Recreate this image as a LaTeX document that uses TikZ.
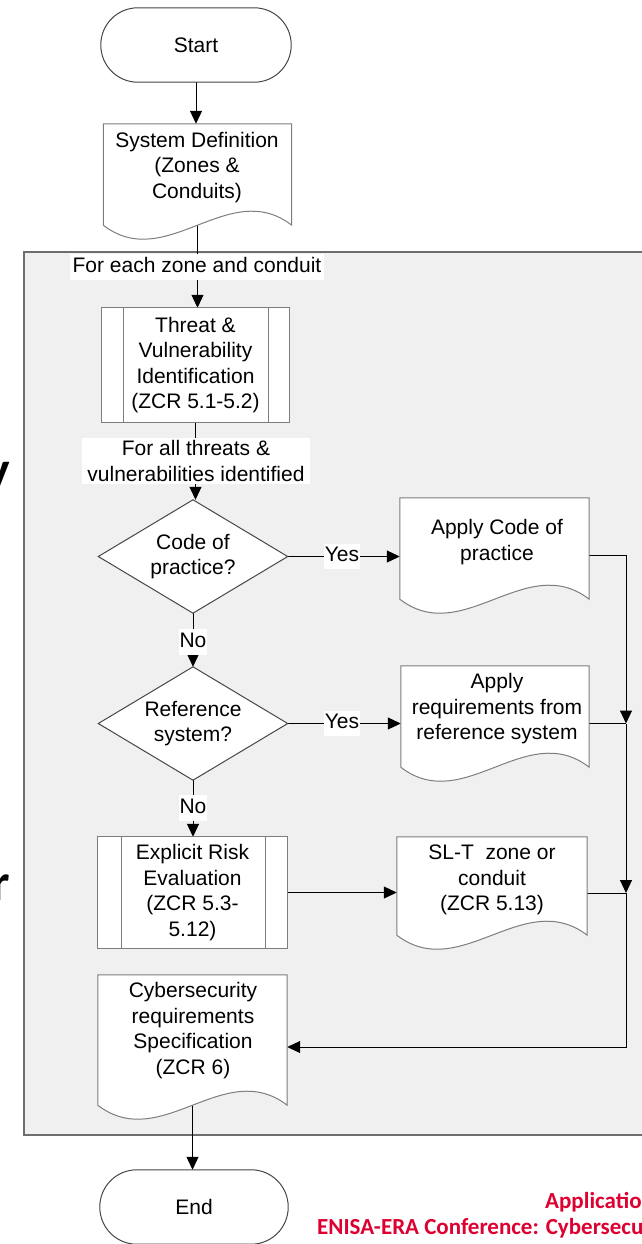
\documentclass[tikz,border=0pt]{standalone}
\usepackage{fontspec}
\setmainfont{Liberation Sans}
\newfontfamily\slidefont{Carlito}
\usetikzlibrary{calc,arrows.meta}

\definecolor{panelfill}{RGB}{240,240,240}
\definecolor{panelline}{RGB}{110,110,110}
\definecolor{shapeline}{RGB}{125,125,125}
\definecolor{diamline}{RGB}{70,70,70}
\definecolor{slidered}{RGB}{221,0,49}

\pgfdeclarelayer{panel}
\pgfdeclarelayer{links}
\pgfdeclarelayer{outlines}
\pgfsetlayers{panel,links,outlines,main}

\tikzset{
  base/.style={inner sep=0pt, align=center, font=\fontsize{21}{25.5}\selectfont},
  shp/.style={draw=shapeline, fill=white, line width=1pt},
  sep/.style={draw=shapeline, line width=1pt},
  dia/.style={draw=diamline, fill=white, line width=1pt},
  term/.style={draw=diamline, fill=white, line width=1pt, rounded corners=37pt},
  link/.style={draw=black, line width=1pt},
  arr/.style={link, -{Triangle[length=13pt,width=12pt]}},
  tag/.style={base, fill=white, inner xsep=2pt, inner ysep=3pt},
  oneline/.style={text height=15pt, text depth=4.5pt},
  redtxt/.style={inner sep=0pt, text=slidered, font={\slidefont\bfseries\fontsize{23}{27}\selectfont}},
  bigtxt/.style={inner sep=0pt, text=black, font={\slidefont\bfseries\fontsize{52}{60}\selectfont}},
}

% document symbol: flat top, straight sides, wavy bottom
% #1 node, #2 wave depth, #3 control offset
\newcommand\docoutline[3]{%
  \draw[shp] (#1.north west) -- (#1.north east) -- ([yshift=#2]#1.south east)
    .. controls ($([yshift=#2]#1.south east)!0.3333!([yshift=#2]#1.south west)+(0pt,#3)$)
    and ($([yshift=#2]#1.south east)!0.6667!([yshift=#2]#1.south west)+(0pt,-#3)$)
    .. ([yshift=#2]#1.south west) -- cycle;}

\begin{document}
\begin{tikzpicture}[x=1pt,y=-1pt]
\useasboundingbox (0,0) rectangle (641,1244);
\clip (0,0) rectangle (641,1244);

% shaded frame around the per-zone loop
\begin{pgfonlayer}{panel}
  \draw[draw=panelline, fill=panelfill, line width=1.2pt] (24,252) rectangle (700,1135);
\end{pgfonlayer}

% flow symbols
\node[base, minimum width=190pt, minimum height=74pt] (start) at (196,45) {Start};

\node[base, minimum width=188pt, minimum height=115pt] (sysdef) at (197.5,181.5) {};
\node[base] (sysdef-t) at (197,167.5) {System Definition\\(Zones \&\\Conduits)};

\node[tag, oneline, inner xsep=3pt] (lab1) at (197,267) {For each zone and conduit};

\node[base, minimum width=187pt, minimum height=114pt] (threat) at (195.5,365)
  {Threat \&\\Vulnerability\\Identification\\(ZCR 5.1-5.2)};

\node[tag, inner xsep=5pt] (lab2) at (196,461) {For all threats \&\\vulnerabilities identified};

\node[base, minimum width=189pt, minimum height=113pt] (d1) at (193,556.5) {Code of\\practice?};
\node[base, minimum width=189pt, minimum height=115pt] (cop) at (494.5,555.5) {};
\node[base] (cop-t) at (497,542) {Apply Code of\\practice};

\node[base, minimum width=189pt, minimum height=113pt] (d2) at (193,723.5) {Reference\\system?};
\node[base, minimum width=188pt, minimum height=115pt] (ref) at (495,723.5) {};
\node[base] (ref-t) at (497,709) {Apply\\requirements from\\reference system};

\node[base, minimum width=189pt, minimum height=111pt] (risk) at (192.5,892.5)
  {Explicit Risk\\Evaluation\\(ZCR 5.3-\\5.12)};
\node[base, minimum width=190pt, minimum height=112pt] (slt) at (492,893) {};
\node[base] (slt-t) at (492,880) {SL-T\ \ zone or\\conduit\\(ZCR 5.13)};

\node[base, minimum width=189pt, minimum height=144pt] (spec) at (192.5,1047) {};
\node[base] (spec-t) at (193,1030.5) {Cybersecurity\\requirements\\Specification\\(ZCR 6)};

\node[base, minimum width=188pt, minimum height=74pt] (end) at (194,1207) {End};

% branch labels
\node[tag, oneline, inner xsep=1pt] (yes1) at (342,556.5) {Yes};
\node[tag, oneline, inner xsep=1pt] (no1) at (193,642) {No};
\node[tag, oneline, inner xsep=1pt] (yes2) at (342,723.5) {Yes};
\node[tag, oneline, inner xsep=1pt] (no2) at (193,808) {No};

% outlines of the symbols
\begin{pgfonlayer}{outlines}
  \draw[term] (start.north west) rectangle (start.south east);
  \docoutline{sysdef}{14pt}{48.5pt}
  \draw[shp] (threat.north west) rectangle (threat.south east);
  \draw[sep] ([xshift=22pt]threat.north west) -- ([xshift=22pt]threat.south west)
             ([xshift=-21pt]threat.north east) -- ([xshift=-21pt]threat.south east);
  \draw[dia] (d1.north) -- (d1.east) -- (d1.south) -- (d1.west) -- cycle;
  \docoutline{cop}{14pt}{48.5pt}
  \draw[dia] (d2.north) -- (d2.east) -- (d2.south) -- (d2.west) -- cycle;
  \docoutline{ref}{14pt}{48.5pt}
  \draw[shp] (risk.north west) rectangle (risk.south east);
  \draw[sep] ([xshift=24pt]risk.north west) -- ([xshift=24pt]risk.south west)
             ([xshift=-22pt]risk.north east) -- ([xshift=-22pt]risk.south east);
  \docoutline{slt}{14pt}{48.5pt}
  \docoutline{spec}{14pt}{48.5pt}
  \draw[term] (end.north west) rectangle (end.south east);
\end{pgfonlayer}

% flow lines
\coordinate (rail) at (626,0);
\begin{pgfonlayer}{links}
  \draw[arr] (start.south) -- (start.south |- sysdef.north);
  \draw[arr] (sysdef.center) -- (sysdef.center |- threat.north);
  \draw[arr] (threat.south) -- (threat.south |- d1.north);
  \draw[arr] (d1.east) -- (d1.east -| cop.west);
  \draw[arr] (d1.south) -- (d1.south |- d2.north);
  \draw[arr] (d2.east) -- (d2.east -| ref.west);
  \draw[arr] (d2.south) -- (d2.south |- risk.north);
  \draw[arr] (risk.east) -- (risk.east -| slt.west);
  \coordinate (j1) at (ref.east -| rail);
  \coordinate (j2) at (slt.east -| rail);
  \draw[arr] (cop.east) -| (j1);
  \draw[link] (ref.east) -- (j1);
  \draw[arr] (j1) -- (j2);
  \draw[link] (slt.east) -- (j2);
  \draw[arr] (j2) |- (spec.east);
  \draw[arr] (spec.center) -- (spec.center |- end.north);
\end{pgfonlayer}

% slide text around the chart
\node[redtxt, anchor=west] (app) at (545,1202) {Application};
\node[redtxt, anchor=west] (conf) at (317,1228) {ENISA-ERA Conference: Cybersecurity};
\node[bigtxt, anchor=base east] (ly) at (10,487) {y};
\node[bigtxt, anchor=base east] (lr) at (10,900) {r};
\end{tikzpicture}
\end{document}
